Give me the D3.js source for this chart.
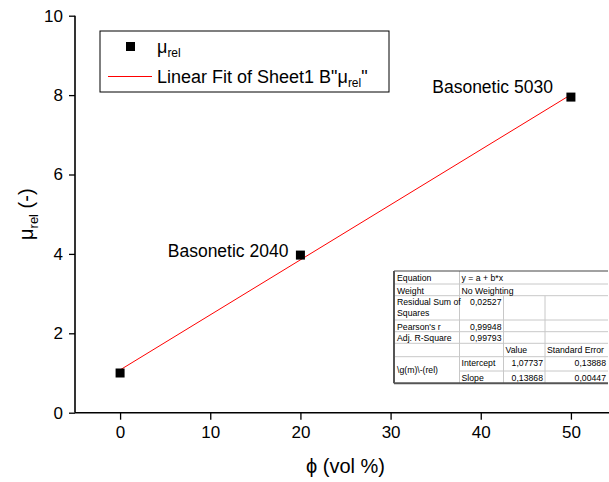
<!DOCTYPE html>
<html><head><meta charset="utf-8">
<script src="https://cdn.jsdelivr.net/npm/d3@7"></script>
<style>
html,body{margin:0;padding:0;background:#fff;}
svg{display:block;font-family:"Liberation Sans",Arial,sans-serif;}
</style></head>
<body><svg id="c" width="609" height="482"></svg>
<script>
// ---- data ----
const phi = [0, 20, 50];
const muRel = [1.0, 3.97, 7.95];
const pointLabels = ["", "Basonetic 2040", "Basonetic 5030"];
const fitIntercept = 1.07737;
const fitSlope = 0.13868;
const fitRange = [0, 50];
const xMajorTicks = [0, 10, 20, 30, 40, 50];
const xMinorTicks = [-5, 5, 15, 25, 35, 45, 55];
const yMajorTicks = [0, 2, 4, 6, 8, 10];
const yMinorTicks = [1, 3, 5, 7, 9];
const tableRows = [
  ["Equation", "y = a + b*x"],
  ["Weight", "No Weighting"],
  ["Residual Sum of|Squares", "0,02527", "", ""],
  ["Pearson's r", "0,99948", "", ""],
  ["Adj. R-Square", "0,99793", "", ""],
  ["", "", "Value", "Standard Error"],
  ["\\g(m)\\-(rel)", "Intercept", "1,07737", "0,13888"],
  ["", "Slope", "0,13868", "0,00447"]
];

// label placement (style, not data)
const labelDx = [0, -12, -18];
const labelDy = [0, 1.6, -4.4];

const svg = d3.select("#c");
const x = d3.scaleLinear().domain([-5, 55]).range([75, 616]);
const y = d3.scaleLinear().domain([0, 10]).range([412.7, 15.7]);

// axes
const gx = svg.append("g").attr("transform", `translate(0,${y(0)})`);
gx.call(d3.axisBottom(x).tickValues(xMinorTicks).tickSize(4).tickFormat(""));
gx.call(d3.axisBottom(x).tickValues(xMajorTicks).tickSize(7).tickFormat(d3.format("d")).tickPadding(6));
gx.selectAll(".domain").remove();
gx.append("line").attr("x1", x(-5)).attr("x2", 609).attr("stroke", "#000").attr("stroke-width", 1.6);
gx.selectAll(".tick line").attr("stroke-width", 1.3);
gx.selectAll(".tick text").attr("font-size", 17).attr("fill", "#000").attr("font-family", "Liberation Sans, Arial, sans-serif");

const gy = svg.append("g").attr("transform", `translate(${x(-5)},0)`);
gy.call(d3.axisLeft(y).tickValues(yMinorTicks).tickSize(4).tickFormat(""));
gy.call(d3.axisLeft(y).tickValues(yMajorTicks).tickSize(6).tickFormat(d3.format("d")).tickPadding(6));
gy.selectAll(".domain").remove();
gy.append("line").attr("y1", y(0)).attr("y2", y(10)).attr("stroke", "#000").attr("stroke-width", 1.6);
gy.selectAll(".tick line").attr("stroke-width", 1.3);
gy.selectAll(".tick text").attr("font-size", 17).attr("fill", "#000").attr("font-family", "Liberation Sans, Arial, sans-serif");

// axis titles
svg.append("text").attr("x", (x(-5) + x(55)) / 2).attr("y", 473).attr("text-anchor", "middle")
  .attr("font-size", 20).text("ϕ (vol %)");
const yt = svg.append("text").attr("transform", `translate(33,${(y(0) + y(10)) / 2}) rotate(-90)`)
  .attr("text-anchor", "middle").attr("font-size", 20);
yt.append("tspan").text("μ");
yt.append("tspan").attr("font-size", 13).attr("dy", 5).text("rel");
yt.append("tspan").attr("dy", -5).text(" (-)");

// fit line
svg.append("line")
  .attr("x1", x(fitRange[0])).attr("y1", y(fitIntercept + fitSlope * fitRange[0]))
  .attr("x2", x(fitRange[1])).attr("y2", y(fitIntercept + fitSlope * fitRange[1]))
  .attr("stroke", "#ff0000").attr("stroke-width", 1);

// points
const pts = phi.map((p, i) => ({ p, m: muRel[i], l: pointLabels[i], i }));
svg.selectAll("rect.pt").data(pts).enter().append("rect").attr("class", "pt")
  .attr("x", d => x(d.p) - 4.5).attr("y", d => y(d.m) - 4.5).attr("width", 9).attr("height", 9).attr("fill", "#000");
svg.selectAll("text.pl").data(pts.filter(d => d.l)).enter().append("text").attr("class", "pl")
  .attr("x", d => x(d.p) + labelDx[d.i]).attr("y", d => y(d.m) + labelDy[d.i]).attr("text-anchor", "end")
  .attr("font-size", 17.5).text(d => d.l);

// legend
const lg = svg.append("g");
lg.append("rect").attr("x", 100).attr("y", 31).attr("width", 289).attr("height", 61)
  .attr("fill", "#fff").attr("stroke", "#000").attr("stroke-width", 1);
lg.append("rect").attr("x", 126).attr("y", 42).attr("width", 9).attr("height", 9).attr("fill", "#000");
const l1 = lg.append("text").attr("x", 157).attr("y", 53).attr("font-size", 18);
l1.append("tspan").text("μ");
l1.append("tspan").attr("font-size", 12).attr("dy", 4).text("rel");
lg.append("line").attr("x1", 108).attr("x2", 152).attr("y1", 76.5).attr("y2", 76.5).attr("stroke", "#ff0000").attr("stroke-width", 1);
const l2 = lg.append("text").attr("x", 157).attr("y", 83).attr("font-size", 18);
l2.append("tspan").text("Linear Fit of Sheet1 B\"μ");
l2.append("tspan").attr("font-size", 12).attr("dy", 4).text("rel");
l2.append("tspan").attr("dy", -4).text("\"");

// table
const colX = [394, 459.5, 503.5, 545, 608];
const rowY = [271, 284, 295.7, 320, 331.7, 343.3, 356.7, 371, 383.3];
const tg = svg.append("g").attr("font-size", 8.7).attr("fill", "#000");
tg.append("rect").attr("x", colX[0]).attr("y", rowY[0]).attr("width", colX[4] - colX[0]).attr("height", rowY[8] - rowY[0])
  .attr("fill", "#fff").attr("stroke", "none");
for (let r = 1; r < 8; r++) {
  let x1 = colX[0];
  if (r === 7) x1 = colX[1];
  tg.append("line").attr("x1", x1).attr("x2", colX[4]).attr("y1", rowY[r]).attr("y2", rowY[r]).attr("stroke", "#c8c8c8").attr("stroke-width", 1);
}
tg.append("line").attr("x1", colX[1]).attr("x2", colX[1]).attr("y1", rowY[0]).attr("y2", rowY[8]).attr("stroke", "#c8c8c8");
[2, 3].forEach(c => tg.append("line").attr("x1", colX[c]).attr("x2", colX[c]).attr("y1", rowY[2]).attr("y2", rowY[8]).attr("stroke", "#c8c8c8"));
tg.append("line").attr("x1", colX[0]).attr("x2", colX[4]).attr("y1", rowY[0]).attr("y2", rowY[0]).attr("stroke", "#444").attr("stroke-width", 1.2);
tg.append("line").attr("x1", colX[0]).attr("x2", colX[4]).attr("y1", rowY[8]).attr("y2", rowY[8]).attr("stroke", "#555").attr("stroke-width", 2);
tg.append("line").attr("x1", colX[0]).attr("x2", colX[0]).attr("y1", rowY[0]).attr("y2", rowY[8]).attr("stroke", "#555").attr("stroke-width", 2);

tableRows.forEach((row, r) => {
  const yTop = rowY[r];
  const base = yTop + 9.5;
  if (row.length === 2) {
    tg.append("text").attr("x", colX[0] + 3).attr("y", base).text(row[0]);
    tg.append("text").attr("x", colX[1] + 2).attr("y", base).text(row[1]);
    return;
  }
  row.forEach((cell, c) => {
    if (!cell) return;
    const isNum = /^[0-9]/.test(cell);
    if (c === 0) {
      const lines = cell.split("|");
      let by = base;
      if (r === 6) by = (rowY[6] + rowY[8]) / 2 + 3;
      lines.forEach((ln, k) => tg.append("text").attr("x", colX[0] + 3).attr("y", by + k * 11).text(ln));
    } else if (isNum) {
      tg.append("text").attr("x", colX[c + 1] - 2).attr("y", base).attr("text-anchor", "end").text(cell);
    } else {
      tg.append("text").attr("x", colX[c] + 2).attr("y", base).text(cell);
    }
  });
});
</script></body></html>
